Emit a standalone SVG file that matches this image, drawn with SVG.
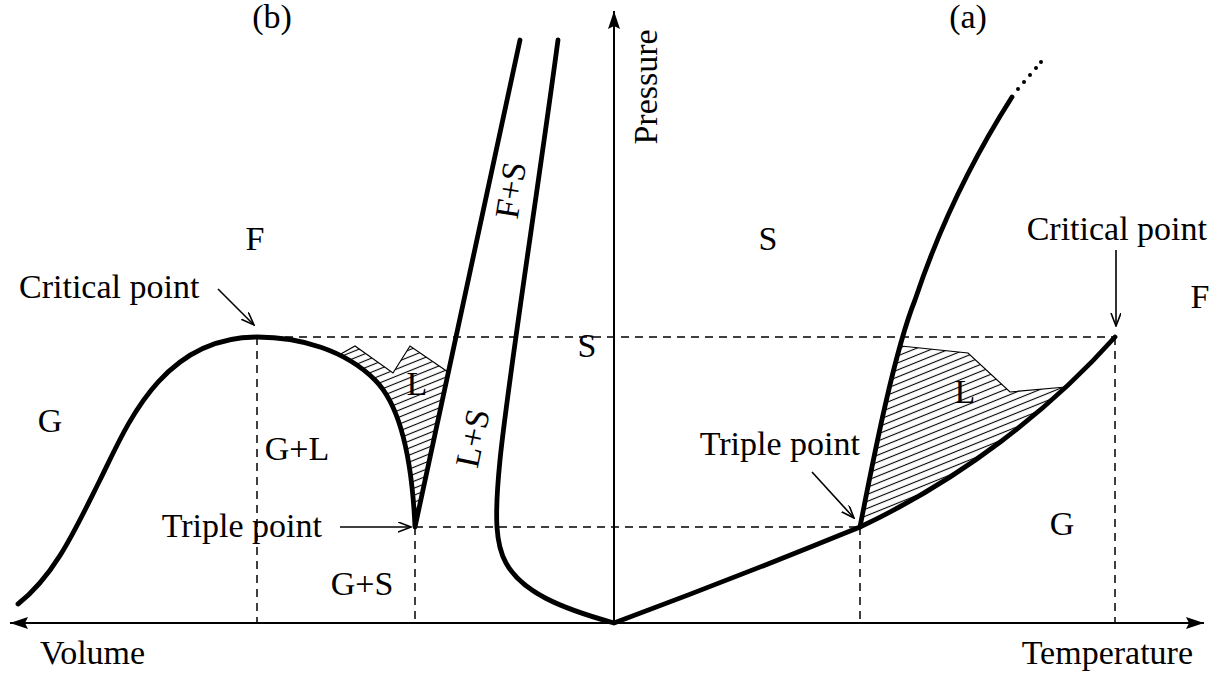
<svg xmlns="http://www.w3.org/2000/svg" width="1211" height="674" viewBox="0 0 1211 674">
<style>
.t{font-family:"Liberation Serif","Times New Roman",serif;font-size:34px;fill:#000}
.ax{stroke:#000;stroke-width:2;fill:none}
.cv{stroke:#000;stroke-width:4.8;fill:none;stroke-linejoin:round;stroke-linecap:round}
.ds{stroke:#000;stroke-width:1.5;fill:none;stroke-dasharray:8 6}
.ar{stroke:#000;stroke-width:1.6;fill:none}
.hz{fill:url(#hatch);stroke:none}
.zz{stroke:#000;stroke-width:1.2;fill:none;stroke-linejoin:miter}
</style>
<defs>
<pattern id="hatch" patternUnits="userSpaceOnUse" width="12" height="6.5" patternTransform="rotate(-22)">
<line x1="0" y1="3.25" x2="12" y2="3.25" stroke="#000" stroke-width="1.1"/>
</pattern>
<marker id="axh" markerUnits="userSpaceOnUse" markerWidth="20" markerHeight="12" refX="18" refY="6" orient="auto">
<path d="M0,0 L18,6 L0,12 L3,6 Z" fill="#000"/>
</marker>
<marker id="opn" markerUnits="userSpaceOnUse" markerWidth="14" markerHeight="12" refX="13" refY="5" orient="auto">
<path d="M0,0 L13,5 L0,10" fill="none" stroke="#000" stroke-width="1.6"/>
</marker>
</defs>

<g id="axes">
<line class="ax" x1="614" y1="623" x2="10" y2="623" marker-end="url(#axh)"/>
<line class="ax" x1="614" y1="623" x2="1204" y2="623" marker-end="url(#axh)"/>
<line class="ax" x1="614" y1="623" x2="614" y2="11" marker-end="url(#axh)"/>
</g>

<g id="hatched-regions">
<path class="hz" d="M339,355 L355,346 L393,373 L410,346 L448,372 L415,527 L411,479 L403,438 L391,404 L375,380 L360,367.6 Z"/>
<path class="zz" d="M339,355 L355,346 L393,373 L410,346 L448,372"/>
<path class="hz" d="M901,346 L968,353 L1010,392 L1066,387 L1050,401 L1026,422 L1000,442 L974,461 L947,479 L919,496 L890,512 L860,527 L872,466 L886,403 Z"/>
<path class="zz" d="M901,346 L968,353 L1010,392 L1066,387"/>
</g>

<g id="guides">
<line class="ds" x1="257" y1="337" x2="1115" y2="337"/>
<line class="ds" x1="257" y1="337" x2="257" y2="623"/>
<line class="ds" x1="1115" y1="337" x2="1115" y2="623"/>
<line class="ds" x1="415" y1="527" x2="860" y2="527"/>
<line class="ds" x1="415" y1="527" x2="415" y2="623"/>
<line class="ds" x1="860" y1="527" x2="860" y2="623"/>
</g>

<g id="curves">
<path class="cv" d="M18,604 C55,575 75,530 100,480 C125,430 160,337 257,337 C300,337 345,350 375,380 C400,405 412,460 415,527 L520,40"/>
<path class="cv" d="M558,40 C538,190 508,380 500,460 C494,520 496,545 506,563 C522,592 560,608 614,623 Q735,578 860,527 C960,480 1050,410 1115,337"/>
<path class="cv" d="M860,527 C875,450 895,350 915,300 C940,225 975,155 1012,97"/>
<g fill="#000">
<circle cx="1018" cy="89" r="2"/>
<circle cx="1024" cy="82" r="2"/>
<circle cx="1030" cy="75" r="2"/>
<circle cx="1036" cy="68" r="2"/>
<circle cx="1041" cy="62" r="2"/>
</g>
</g>

<g id="connectors">
<line class="ar" x1="218" y1="289" x2="254" y2="325" marker-end="url(#opn)"/>
<line class="ar" x1="340" y1="527" x2="411" y2="527" marker-end="url(#opn)"/>
<line class="ar" x1="812" y1="472" x2="854" y2="518" marker-end="url(#opn)"/>
<line class="ar" x1="1116" y1="250" x2="1116" y2="326" marker-end="url(#opn)"/>
</g>

<g id="labels">
<text class="t" x="272" y="28" text-anchor="middle">(b)</text>
<text class="t" x="968" y="28" text-anchor="middle">(a)</text>
<text class="t" transform="translate(645,87) rotate(-90)" x="0" y="12" text-anchor="middle">Pressure</text>
<text class="t" x="255" y="250" text-anchor="middle">F</text>
<text class="t" x="19" y="298">Critical point</text>
<text class="t" x="50" y="432" text-anchor="middle">G</text>
<text class="t" x="297" y="460" text-anchor="middle">G+L</text>
<text class="t" x="417" y="395" text-anchor="middle">L</text>
<text class="t" x="322" y="537" text-anchor="end">Triple point</text>
<text class="t" x="362" y="595" text-anchor="middle">G+S</text>
<text class="t" transform="translate(472,438) rotate(-78)" x="0" y="12" text-anchor="middle">L+S</text>
<text class="t" transform="translate(510,190) rotate(-81)" x="0" y="12" text-anchor="middle">F+S</text>
<text class="t" x="587" y="357" text-anchor="middle">S</text>
<text class="t" x="768" y="250" text-anchor="middle">S</text>
<text class="t" x="1207" y="240" text-anchor="end">Critical point</text>
<text class="t" x="1200" y="308" text-anchor="middle">F</text>
<text class="t" x="965" y="403" text-anchor="middle">L</text>
<text class="t" x="860" y="455" text-anchor="end">Triple point</text>
<text class="t" x="1062" y="535" text-anchor="middle">G</text>
<text class="t" x="40" y="664">Volume</text>
<text class="t" x="1193" y="664" text-anchor="end">Temperature</text>
</g>
</svg>
